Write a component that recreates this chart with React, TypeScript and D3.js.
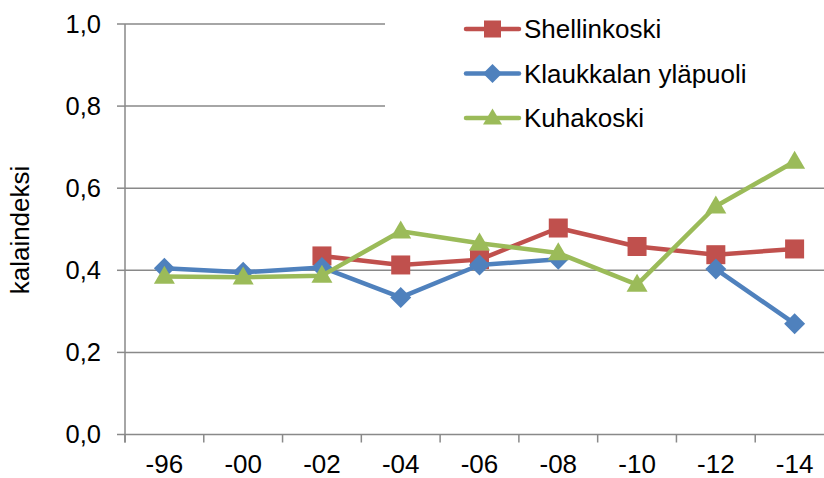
import React from "react";
import * as d3 from "d3";

const categories = ["-96", "-00", "-02", "-04", "-06", "-08", "-10", "-12", "-14"];
const shellinkoski: (number | null)[] = [null, null, 0.435, 0.413, 0.426, 0.503, 0.458, 0.438, 0.452];
const klaukkala: (number | null)[] = [0.405, 0.395, 0.407, 0.334, 0.413, 0.427, null, 0.403, 0.27];
const kuhakoski: (number | null)[] = [0.385, 0.383, 0.387, 0.495, 0.466, 0.442, 0.365, 0.556, 0.665];
const yTicks = [0, 0.2, 0.4, 0.6, 0.8, 1.0];
const seriesNames = ["Shellinkoski", "Klaukkalan yläpuoli", "Kuhakoski"];
const seriesColors = ["#C0504D", "#4F81BD", "#9BBB59"];
const seriesShapes = ["square", "diamond", "triangle"];

const W = 824;
const H = 478;
const left = 125;
const right = 834;
const top = 24;
const bottom = 434.5;
const font = "'Liberation Sans', Arial, sans-serif";

function Marker({ shape, x, y, color, s }: { shape: string; x: number; y: number; color: string; s: number }) {
  if (shape === "square") {
    return <rect x={x - s / 2} y={y - s / 2} width={s} height={s} fill={color} />;
  }
  if (shape === "diamond") {
    const r = s / 2 + 1;
    return <path d={`M${x},${y - r}L${x + r},${y}L${x},${y + r}L${x - r},${y}Z`} fill={color} />;
  }
  const hw = s / 2 + 1;
  const h = s - 1;
  return <path d={`M${x},${y - h * 0.6}L${x + hw},${y + h * 0.4}L${x - hw},${y + h * 0.4}Z`} fill={color} />;
}

export default function App() {
  const x = d3.scaleBand<string>().domain(categories).range([left, right]).padding(0);
  const y = d3.scaleLinear().domain([0, 1]).range([bottom, top]);
  const cx = (c: string) => (x(c) as number) + x.bandwidth() / 2;
  const all = [shellinkoski, klaukkala, kuhakoski];
  const line = d3
    .line<number | null>()
    .defined((d) => d !== null)
    .x((_, i) => cx(categories[i]))
    .y((d) => y(d as number));

  const boundaries = categories.map((c) => x(c) as number).concat([right]);

  return (
    <svg width={W} height={H} style={{ position: "absolute", left: 0, top: 0, background: "#fff" }} fontFamily={font}>
      <rect x={0} y={0} width={W} height={H} fill="#fff" />
      {/* gridlines */}
      {yTicks.slice(1).map((t) => (
        <line key={t} x1={left} x2={W} y1={y(t)} y2={y(t)} stroke="#898989" strokeWidth={1.5} />
      ))}
      {/* legend background */}
      <rect x={385} y={8} width={W - 385} height={130} fill="#fff" />
      {/* axes */}
      <line x1={left} x2={W} y1={bottom} y2={bottom} stroke="#898989" strokeWidth={1.5} />
      <line x1={left} x2={left} y1={top} y2={bottom + 8} stroke="#898989" strokeWidth={1.5} />
      {yTicks.map((t) => (
        <line key={"yt" + t} x1={left - 8} x2={left} y1={y(t)} y2={y(t)} stroke="#898989" strokeWidth={1.5} />
      ))}
      {boundaries.map((b, i) => (
        <line key={"xt" + i} x1={b} x2={b} y1={bottom} y2={bottom + 8} stroke="#898989" strokeWidth={1.5} />
      ))}
      {yTicks.map((t) => (
        <text key={"yl" + t} x={101} y={y(t)} dy="0.35em" textAnchor="end" fontSize={25.5} fill="#000">
          {t.toFixed(1).replace(".", ",")}
        </text>
      ))}
      {categories.map((c) => (
        <text key={"xl" + c} x={cx(c)} y={472.5} textAnchor="middle" fontSize={26} fill="#000">
          {c}
        </text>
      ))}
      <text transform={`translate(29,230) rotate(-90)`} textAnchor="middle" fontSize={26} fill="#000">
        kalaindeksi
      </text>
      {/* series */}
      {all.map((s, si) => (
        <g key={si}>
          <path d={line(s) || ""} fill="none" stroke={seriesColors[si]} strokeWidth={4.5} strokeLinejoin="round" />
          {s.map((v, i) =>
            v === null ? null : (
              <Marker key={i} shape={seriesShapes[si]} x={cx(categories[i])} y={y(v)} color={seriesColors[si]} s={19} />
            )
          )}
        </g>
      ))}
      {/* legend */}
      {seriesNames.map((n, i) => {
        const ly = 29 + i * 44.5;
        return (
          <g key={n}>
            <line x1={466} x2={519} y1={ly} y2={ly} stroke={seriesColors[i]} strokeWidth={4.5} strokeLinecap="round" />
            <Marker shape={seriesShapes[i]} x={492.5} y={ly} color={seriesColors[i]} s={17} />
            <text x={524} y={ly} dy="0.35em" fontSize={26} fill="#000">
              {n}
            </text>
          </g>
        );
      })}
    </svg>
  );
}
